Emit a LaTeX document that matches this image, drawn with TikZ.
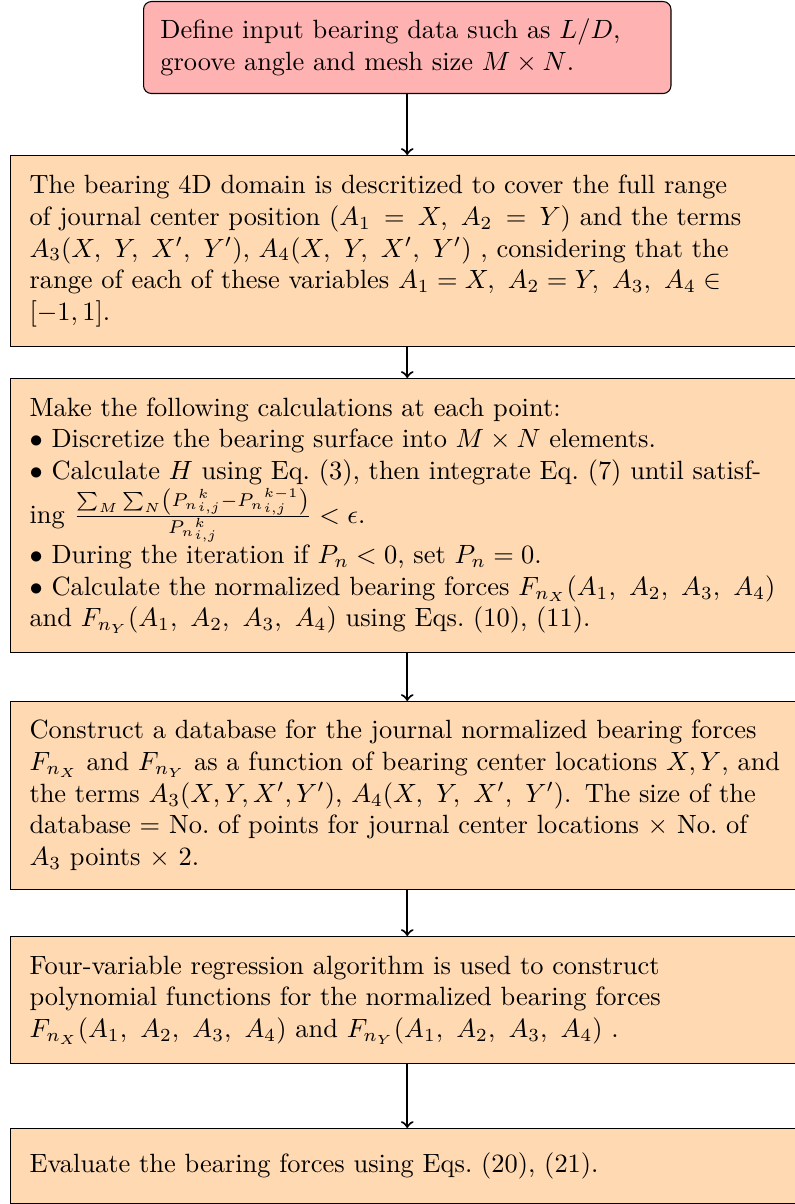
\documentclass[tikz,border=0pt]{standalone}
\usepackage{amsmath}
\usetikzlibrary{arrows}
\def\px{0.3788pt}
\tikzset{
  flowbox/.style={draw=black, fill=orange!30, anchor=north west, align=left,
    text width=292pt, inner xsep=7.2pt, inner ysep=0pt, font=\normalsize},
  startbox/.style={draw=black, fill=red!30, rounded corners=3pt, anchor=north west,
    align=left, text width=187pt, inner xsep=6.4pt, inner ysep=0pt},
  flowarrow/.style={->, thick}
}
\begin{document}
\begin{tikzpicture}[x=0.3788pt, y=-0.3788pt]
\useasboundingbox (0,0) rectangle (795,1204);

\node[startbox, minimum height={92*\px}] (s) at (143,1)
  {Define input bearing data such as $L/D$,\\
   groove angle and mesh size $M \times N$.};

\node[flowbox, minimum height={191*\px}] (b2) at (10,155)
  {The bearing 4D domain is descritized to cover the full range\\
   of journal center position $(A_1 \mskip4mu=\mskip4mu X,\ A_2 \mskip4mu=\mskip4mu Y)$ and the terms\\
   $A_3(X,\ Y,\ X',\ Y')$, $A_4(X,\ Y,\ X',\ Y')$ , considering that the\\
   range of each of these variables $A_1 = X,\ A_2 = Y,\ A_3,\ A_4 \in$\\
   $[-1,1]$.};

\node[flowbox, minimum height={274*\px}] (b3) at (10,378)
  {Make the following calculations at each point:\\
   $\bullet$ Discretize the bearing surface into $M \times N$ elements.\\
   $\bullet$ Calculate $H$ using Eq.\ (3), then integrate Eq.\ (7) until satisf-\\
   ing $\frac{\sum_M \sum_N \left({P_n}_{i,j}^{k} - {P_n}_{i,j}^{k-1}\right)}{{P_n}_{i,j}^{k}} < \epsilon$.\\
   $\bullet$ During the iteration if $P_n < 0$, set $P_n = 0$.\\
   $\bullet$ Calculate the normalized bearing forces $F_{n_X}(A_1,\ A_2,\ A_3,\ A_4)$\\
   and $F_{n_Y}(A_1,\ A_2,\ A_3,\ A_4)$ using Eqs.\ (10), (11).};

\node[flowbox, minimum height={188*\px}] (b4) at (10,701)
  {Construct a database for the journal normalized bearing forces\\
   $F_{n_X}$ and $F_{n_Y}$ as a function of bearing center locations $X,Y$, and\\
   the terms $A_3(X,Y,X',Y')$, $A_4(X,\ Y,\ X',\ Y')$. The size of the\\
   database $=$ No.\ of points for journal center locations $\times$ No.\ of\\
   $A_3$ points $\times$ 2.};

\node[flowbox, minimum height={127*\px}] (b5) at (10,936)
  {Four-variable regression algorithm is used to construct\\
   polynomial functions for the normalized bearing forces\\
   $F_{n_X}(A_1,\ A_2,\ A_3,\ A_4)$ and $F_{n_Y}(A_1,\ A_2,\ A_3,\ A_4)$ .};

\node[flowbox, minimum height={75*\px}] (b6) at (10,1128)
  {Evaluate the bearing forces using Eqs.\ (20), (21).};

\draw[flowarrow] (s.south) -- (s.south |- b2.north);
\draw[flowarrow] (s.south |- b2.south) -- (s.south |- b3.north);
\draw[flowarrow] (s.south |- b3.south) -- (s.south |- b4.north);
\draw[flowarrow] (s.south |- b4.south) -- (s.south |- b5.north);
\draw[flowarrow] (s.south |- b5.south) -- (s.south |- b6.north);
\end{tikzpicture}
\end{document}
